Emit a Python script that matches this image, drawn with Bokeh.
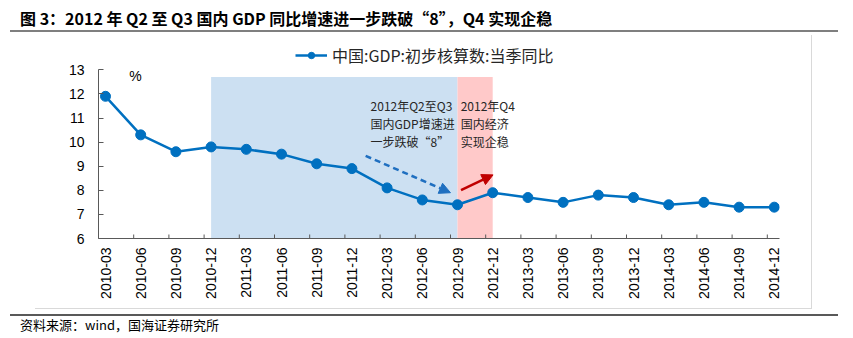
from bokeh.plotting import figure
from bokeh.models import (Range1d, FixedTicker, Legend, LegendItem, Label, Div,
                          Arrow, NormalHead, ColumnDataSource)
from bokeh.layouts import column
from bokeh.core.properties import value
from bokeh.embed import file_html
from bokeh.resources import INLINE

# ---------------- data ----------------
categories = ["2010-03", "2010-06", "2010-09", "2010-12", "2011-03", "2011-06", "2011-09",
              "2011-12", "2012-03", "2012-06", "2012-09", "2012-12", "2013-03", "2013-06",
              "2013-09", "2013-12", "2014-03", "2014-06", "2014-09", "2014-12"]
gdp_yoy = [11.9, 10.3, 9.6, 9.8, 9.7, 9.5, 9.1, 8.9, 8.1, 7.6, 7.4, 7.9,
           7.7, 7.5, 7.8, 7.7, 7.4, 7.5, 7.3, 7.3]
y_ticks = [6, 7, 8, 9, 10, 11, 12, 13]
series_name = "中国:GDP:初步核算数:当季同比"
blue_band = ("2010-12", "2012-09")
red_band = ("2012-09", "2012-12")
band_top = 12.7
note1 = ["2012年Q2至Q3", "国内GDP增速进", "一步跌破“8”"]
note2 = ["2012年Q4", "国内经济", "实现企稳"]
title_text = "图 3：2012 年 Q2 至 Q3 国内 GDP 同比增速进一步跌破“8”，Q4 实现企稳"
source_text = "资料来源：wind，国海证券研究所"

# ---------------- layout (canvas pixels) ----------------
W, H = 853, 338
HEAD_H = 35          # header strip height
BOX_L, BOX_R, BOX_B = 35, 812, 309   # light grey chart box
FL, FR, FT, FB = 98, 779, 40, 238    # plot frame in page coordinates
PX_PER_X = 35.2
PX_PER_Y = 24.1
x_start = -7 / PX_PER_X
x_end = x_start + (FR - FL) / PX_PER_X
y_end = 6 + (FB - FT) / PX_PER_Y

xs = list(range(len(categories)))

PW, PH = BOX_R - BOX_L, BOX_B - HEAD_H
p = figure(width=PW, height=PH, x_range=Range1d(x_start, x_end), y_range=Range1d(6, y_end),
           min_border_left=FL - BOX_L, min_border_right=BOX_R - FR,
           min_border_top=FT - HEAD_H, min_border_bottom=BOX_B - FB,
           output_backend="svg", toolbar_location=None, margin=(0, 0, 0, BOX_L))
p.styles = {"border-right": "1px solid #D9D9D9", "border-bottom": "1px solid #D9D9D9"}
p.xgrid.visible = False
p.ygrid.visible = False
p.outline_line_color = None
p.background_fill_color = "white"
p.border_fill_color = "white"

CJK = "Noto Sans CJK SC"
SANS = "Liberation Sans"
AXC = "#595959"

# bands
bi0, bi1 = categories.index(blue_band[0]), categories.index(blue_band[1])
ri0, ri1 = categories.index(red_band[0]), categories.index(red_band[1])
p.quad(left=[bi0], right=[bi1], bottom=[6], top=[band_top], fill_color="#CCE0F2", line_color=None)
p.quad(left=[ri0], right=[ri1], bottom=[6], top=[band_top], fill_color="#FFC9C9", line_color=None)

# x tick marks (between categories, inside)
tick_len = 4 / PX_PER_Y
p.segment(x0=[i + x_start for i in xs], y0=[6] * len(xs), x1=[i + x_start for i in xs],
          y1=[6 + tick_len] * len(xs), line_color=AXC, line_width=1)

# series
line_r = p.line(xs, gdp_yoy, line_color="#0070C0", line_width=2.5)
pt_r = p.scatter(xs, gdp_yoy, size=10, fill_color="#0070C0", line_color="#0070C0")

# axes
xa = p.xaxis[0]
xa.ticker = FixedTicker(ticks=xs)
xa.major_label_overrides = {i: c for i, c in zip(xs, categories)}
xa.major_label_orientation = 3.14159265 / 2
xa.major_tick_in = 0
xa.major_tick_out = 0
xa.minor_tick_line_color = None
xa.axis_line_color = AXC
xa.major_label_standoff = 9
xa.major_label_text_font = SANS
xa.major_label_text_font_size = "14px"
xa.major_label_text_color = "#000000"

ya = p.yaxis[0]
ya.ticker = FixedTicker(ticks=y_ticks)
ya.bounds = (6, 13)
ya.major_tick_in = 5
ya.major_tick_out = 0
ya.major_tick_line_color = AXC
ya.minor_tick_line_color = None
ya.axis_line_color = AXC
ya.major_label_standoff = 14
ya.major_label_text_font = SANS
ya.major_label_text_font_size = "14px"
ya.major_label_text_color = "#000000"

# legend
legend = Legend(items=[LegendItem(label=series_name, renderers=[line_r, pt_r])],
                location=(197, 171), orientation="horizontal", padding=0, margin=0,
                border_line_color=None, background_fill_alpha=0, glyph_width=32,
                glyph_height=16, label_standoff=5, label_height=20,
                label_text_font=CJK, label_text_font_size="16px", label_text_color="#262626")
p.add_layout(legend)

# percent label
p.add_layout(Label(x=0.85, y=12.75, text="%", text_font=SANS, text_font_size="14px",
                   text_align="center", text_baseline="middle", text_color="#000000"))

# notes
pitch = 18 / PX_PER_Y
n1 = ColumnDataSource(dict(x=[7.53] * 3, y=[11.51 - k * pitch for k in range(3)], t=note1))
n2 = ColumnDataSource(dict(x=[10.09] * 3, y=[11.51 - k * pitch for k in range(3)], t=note2))
for src in (n1, n2):
    p.text(x="x", y="y", text="t", source=src, text_font=value(CJK), text_font_size="12px",
           text_baseline="middle", text_align="left", text_color="#262626")

# arrows
p.add_layout(Arrow(x_start=7.39, y_start=9.43, x_end=9.80, y_end=7.90,
                   line_color="#1F6FC0", line_width=2.5, line_dash="6 4",
                   end=NormalHead(size=11, fill_color="#1F6FC0", line_color="#1F6FC0")))
p.add_layout(Arrow(x_start=10.10, y_start=8.01, x_end=11.01, y_end=8.64,
                   line_color="#C00000", line_width=2.5,
                   end=NormalHead(size=11, fill_color="#C00000", line_color="#C00000")))

# header & footer
head_html = (
    f'<div style="position:relative;width:{W}px;height:{HEAD_H}px;">'
    f'<div style="position:absolute;left:20px;top:7px;white-space:nowrap;'
    f'font-family:\'{CJK}\';font-weight:bold;font-size:16px;line-height:22px;color:#000;">'
    f'{title_text}</div>'
    f'<div style="position:absolute;left:10px;top:29.5px;width:828px;height:2px;'
    f'background:#7F7F7F;"></div></div>'
)
foot_h = H - BOX_B - 1
foot_html = (
    f'<div style="position:relative;width:{W}px;height:{foot_h}px;">'
    f'<div style="position:absolute;left:10px;top:4px;width:828px;height:1.5px;'
    f'background:#595959;"></div>'
    f'<div style="position:absolute;left:20px;top:6px;white-space:nowrap;'
    f'font-family:\'{CJK}\';font-size:13px;line-height:18px;color:#000;">'
    f'{source_text}</div></div>'
)
head = Div(text=head_html, width=W, height=HEAD_H, margin=0)
foot = Div(text=foot_html, width=W, height=foot_h, margin=(1, 0, 0, 0))

layout = column(head, p, foot, spacing=0, margin=0)
open("out.html", "w").write(file_html(layout, INLINE))
